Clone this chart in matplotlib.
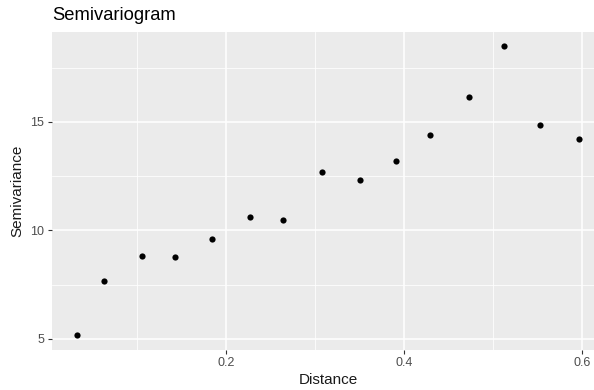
import matplotlib
matplotlib.use("Agg")
import matplotlib.pyplot as plt
from matplotlib.ticker import MultipleLocator

# semivariogram points
distance = [0.0328, 0.0631, 0.1055, 0.1423, 0.1847, 0.2275, 0.2642, 0.3077,
            0.3505, 0.3906, 0.4296, 0.4735, 0.5125, 0.5527, 0.5966]
semivariance = [5.18, 7.69, 8.81, 8.76, 9.60, 10.64, 10.50, 12.71,
                12.34, 13.18, 14.40, 16.17, 18.49, 14.86, 14.20]
x_ticks = [0.2, 0.4, 0.6]
y_ticks = [5, 10, 15]

plt.rcParams['font.family'] = ['Liberation Sans', 'DejaVu Sans']

W, H = 594, 390
fig = plt.figure(figsize=(W / 100, H / 100), dpi=100)

# ggplot-like padding: 5% of data range on each side
def expand(vals, frac=0.05):
    lo, hi = min(vals), max(vals)
    pad = (hi - lo) * frac
    return lo - pad, hi + pad

xlo, xhi = expand(distance)
ylo, yhi = expand(semivariance)

# panel in pixels (right side runs past the crop of the original)
left, right, top, bottom = 52, 604, 31.7, 349.5
ax = fig.add_axes([left / W, 1 - bottom / H, (right - left) / W, (bottom - top) / H])
ax.set_facecolor('#EBEBEB')
ax.set_xlim(xlo, xhi)
ax.set_ylim(ylo, yhi)

ax.xaxis.set_major_locator(MultipleLocator(0.2))
ax.xaxis.set_minor_locator(MultipleLocator(0.1))
ax.yaxis.set_major_locator(MultipleLocator(5))
ax.yaxis.set_minor_locator(MultipleLocator(2.5))
ax.set_xticks(x_ticks)
ax.set_xticklabels([str(t) for t in x_ticks])
ax.set_yticks(y_ticks)
ax.set_yticklabels([str(t) for t in y_ticks])

ax.grid(which='major', color='white', linewidth=1.1)
ax.grid(which='minor', color='white', linewidth=0.55)
ax.set_axisbelow(True)
for s in ax.spines.values():
    s.set_visible(False)

ax.tick_params(which='major', length=3, width=0.8, color='#333333',
               labelcolor='#4D4D4D', labelsize=9, pad=2.5)
ax.tick_params(which='minor', length=0)

ax.scatter(distance, semivariance, s=20, color='black', linewidths=0, zorder=3)

ax.set_xlabel('Distance', fontsize=11, color='#1A1A1A', labelpad=3)
ax.set_ylabel('Semivariance', fontsize=11, color='#1A1A1A', labelpad=4)
fig.text(left / W, 1 - 15 / H, 'Semivariogram', fontsize=13.2, color='black',
         ha='left', va='center')

fig.savefig('out.png', dpi=100)
